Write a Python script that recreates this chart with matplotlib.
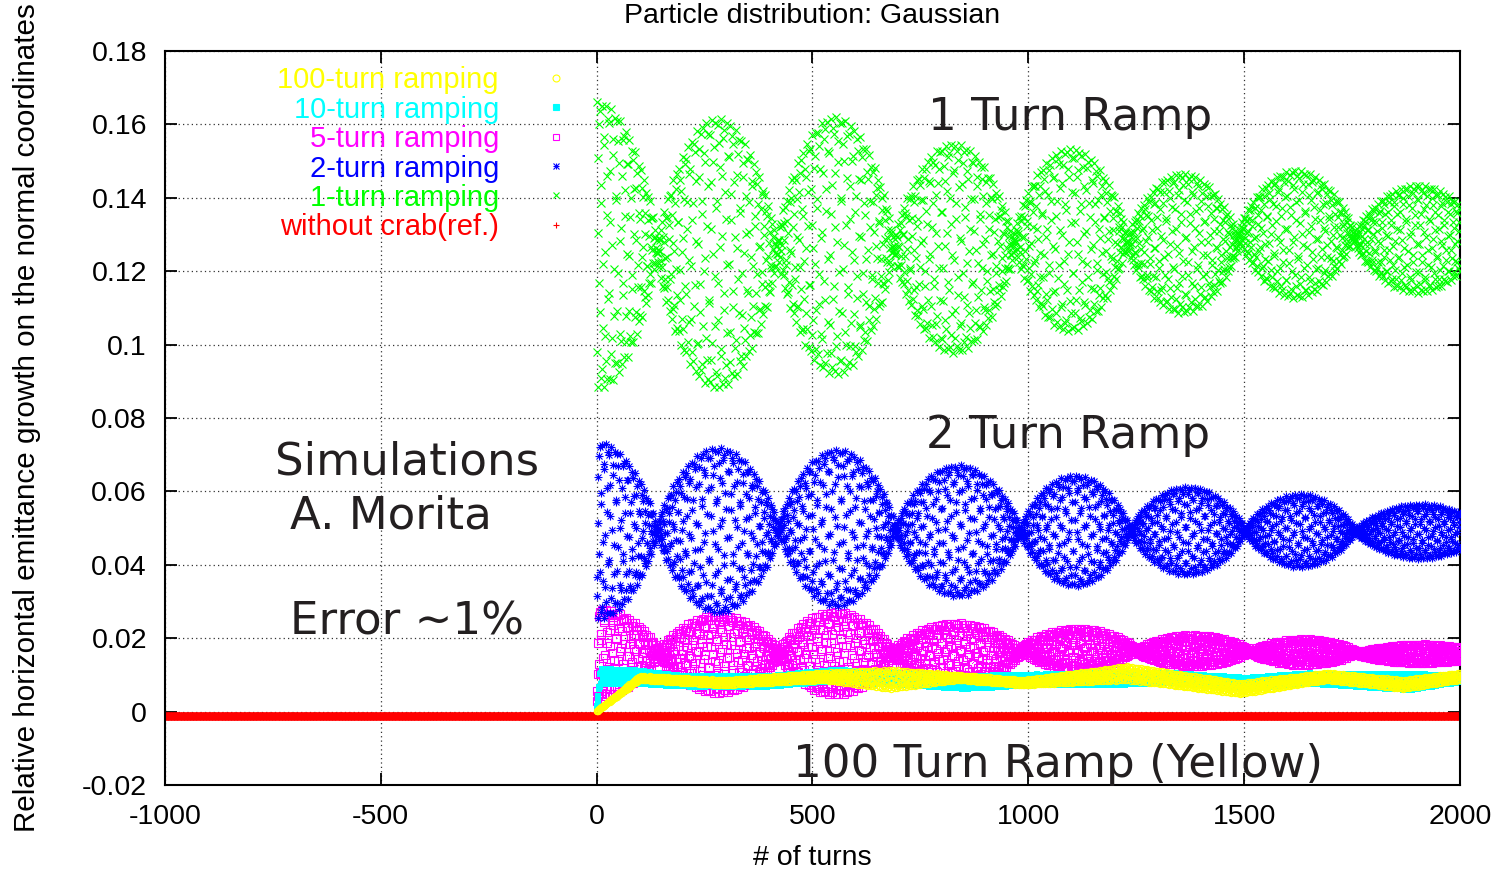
import numpy as np
import matplotlib
matplotlib.use("Agg")
import matplotlib.pyplot as plt

plt.rcParams["font.family"] = ["Liberation Sans", "DejaVu Sans"]
plt.rcParams["axes.unicode_minus"] = False

# fractional tune: spreads the one-sample-per-turn points across the envelope
TUNE = 0.381966

# --- envelopes ---
# waists (turns where the band pinches) and top/bottom of each bulge between them
green_waists = [-140, 140, 418, 688, 966, 1228, 1487, 1753, 2050]
green_top = [0.1662, 0.1616, 0.1620, 0.1547, 0.1534, 0.1466, 0.1475, 0.1434]
green_bot = [0.0878, 0.0882, 0.0918, 0.0977, 0.1036, 0.1086, 0.1127, 0.1141]

blue_waists = [-140, 140, 422, 692, 981, 1236, 1502, 1757, 2060]
blue_top = [0.0735, 0.0718, 0.0713, 0.0671, 0.0644, 0.0612, 0.0592, 0.0565]
blue_bot = [0.0251, 0.0269, 0.0287, 0.0314, 0.0342, 0.0373, 0.0394, 0.0417]

magenta_waists = [-144, 144, 422, 684, 981, 1248, 1514, 1761, 2060]
magenta_top = [0.0280, 0.0262, 0.0271, 0.0241, 0.0226, 0.0208, 0.0197, 0.0183]
magenta_bot = [0.0040, 0.0051, 0.0046, 0.0078, 0.0114, 0.0123, 0.0127, 0.0132]

# thin bands: top/bottom at a few turns
cyan_turns = [10, 80, 200, 400, 550, 700, 850, 1050, 1200, 1320, 1500, 1650, 1880, 2000]
cyan_top = [0.0116, 0.0114, 0.0097, 0.0097, 0.0114, 0.0104, 0.0097, 0.0102, 0.0107,
            0.0106, 0.0092, 0.0104, 0.0102, 0.0100]
cyan_bot = [0.0074, 0.0076, 0.0068, 0.0068, 0.0083, 0.0073, 0.0062, 0.0073, 0.0072,
            0.0078, 0.0063, 0.0076, 0.0058, 0.0080]

yellow_turns = [100, 295, 526, 680, 835, 988, 1228, 1491, 1692, 1869, 2000]
yellow_top = [0.0097, 0.0086, 0.0106, 0.0114, 0.0100, 0.0086, 0.0124, 0.0078, 0.0106,
              0.0086, 0.0106]
yellow_bot = [0.0086, 0.0072, 0.0086, 0.0062, 0.0086, 0.0072, 0.0086, 0.0048, 0.0086,
              0.0062, 0.0086]

ref_level = -0.0012   # "without crab" stays flat
ramp_turns = {"yellow": 100, "cyan": 10, "magenta": 5, "blue": 2, "green": 1}

turns = np.arange(0, 2001)
ref_turns = np.arange(-1000, 2001)


def bulges(n, waists, top, bot):
    w = np.asarray(waists, float)
    top, bot = np.asarray(top), np.asarray(bot)
    k = np.clip(np.searchsorted(w, n, side="right") - 1, 0, len(top) - 1)
    frac = (n - w[k]) / (w[k + 1] - w[k])
    mid = (top[k] + bot[k]) / 2
    # bulges are a bit fuller than a plain sine arch
    half = (top[k] - bot[k]) / 2 * np.sin(np.pi * frac) ** 0.7
    return mid, half


def band(n, nodes, top, bot):
    t = np.interp(n, nodes, top)
    b = np.interp(n, nodes, bot)
    return (t + b) / 2, (t - b) / 2


def samples(mid, half, n_ramp):
    ramp = np.minimum((turns + 1) / n_ramp, 1.0)
    return ramp * (mid + half * np.cos(2 * np.pi * TUNE * turns))


green = samples(*bulges(turns, green_waists, green_top, green_bot), ramp_turns["green"])
blue = samples(*bulges(turns, blue_waists, blue_top, blue_bot), ramp_turns["blue"])
magenta = samples(*bulges(turns, magenta_waists, magenta_top, magenta_bot), ramp_turns["magenta"])
cyan = samples(*band(turns, cyan_turns, cyan_top, cyan_bot), ramp_turns["cyan"])
yellow = samples(*band(turns, yellow_turns, yellow_top, yellow_bot), ramp_turns["yellow"])
ref = np.full(ref_turns.shape, ref_level)

fig = plt.figure(figsize=(14.97, 8.73), dpi=100)
ax = fig.add_axes([0.1102, 0.1008, 0.8651, 0.8408])

mew = 0.8
ax.plot(ref_turns, ref, ls="none", marker="+", ms=6, mew=1.0, color="#ff0000", zorder=2)
ax.plot(turns, magenta, ls="none", marker="s", ms=6, mew=mew, mfc="none", color="#ff00ff", zorder=3)
ax.plot(turns, magenta, ls="none", marker=",", color="#ff00ff", zorder=3)
ax.plot(turns, blue, ls="none", marker="+", ms=6, mew=mew, color="#0000ff", zorder=4)
ax.plot(turns, blue, ls="none", marker="x", ms=5, mew=mew, color="#0000ff", zorder=4)
ax.plot(turns, green, ls="none", marker="x", ms=6, mew=mew, color="#00ff00", zorder=5)
ax.plot(turns, cyan, ls="none", marker="s", ms=4.2, mew=0, color="#00ffff", zorder=6)
ax.plot(turns, yellow, ls="none", marker="o", ms=4.5, mew=mew, mfc="none", color="#ffff00", zorder=7)

ax.set_xlim(-1000, 2000)
ax.set_ylim(-0.02, 0.18)
xt = [-1000, -500, 0, 500, 1000, 1500, 2000]
yt = [-0.02, 0, 0.02, 0.04, 0.06, 0.08, 0.1, 0.12, 0.14, 0.16, 0.18]
ax.set_xticks(xt, [str(v) for v in xt])
ax.set_yticks(yt, [f"{v:g}" for v in yt])
ax.tick_params(direction="in", length=8.5, width=1.3, labelsize=20.5,
               top=True, right=True)
ax.tick_params(axis="x", pad=14)
ax.tick_params(axis="y", pad=13)
for s in ax.spines.values():
    s.set_linewidth(1.5)
ax.set_axisbelow(True)
ax.grid(True, color="#333333", lw=0.9, ls=(0, (1, 2.5)))

ax.set_xlabel("# of turns", fontsize=20.5)
ax.xaxis.set_label_coords(0.5, -0.0995)
ax.xaxis.label.set_va("center")
ax.set_ylabel("Relative horizontal emittance growth on the normal coordinates", fontsize=21.3)
ax.yaxis.set_label_coords(-0.1065, 0.5)
ax.yaxis.label.set_va("center")

fig.text(0.5424, 1 - 23 / 873, "Particle distribution: Gaussian", ha="center",
         va="baseline", fontsize=20.5)

# legend: text right-aligned, key marker to the right
legend_rows = [
    ("100-turn ramping", "#ffff00", [dict(marker="o", mfc="none")]),
    ("10-turn ramping", "#00ffff", [dict(marker="s")]),
    ("5-turn ramping", "#ff00ff", [dict(marker="s", mfc="none")]),
    ("2-turn ramping", "#0000ff", [dict(marker="+"), dict(marker="x")]),
    ("1-turn ramping", "#00ff00", [dict(marker="x")]),
    ("without crab(ref.)", "#ff0000", [dict(marker="+")]),
]
for i, (label, col, keys) in enumerate(legend_rows):
    yc = 0.9632 - 0.0400 * i
    ax.text(0.2579, yc - 0.0143, label, transform=ax.transAxes, ha="right",
            va="baseline", color=col, fontsize=21, zorder=10)
    for mk in keys:
        ax.plot([0.3019], [yc], transform=ax.transAxes, ls="none", ms=5, mew=0.8,
                color=col, clip_on=False, zorder=10, **mk)

# annotations
note = dict(fontsize=32.5, color="#231f20", family="DejaVu Sans", va="baseline",
            ha="left", zorder=12)
ax.text(768, 0.1585, "1 Turn Ramp", **note)
ax.text(763, 0.0718, "2 Turn Ramp", **note)
ax.text(-745, 0.0645, "Simulations", **note)
ax.text(-710, 0.0500, "A. Morita", **note)
ax.text(-710, 0.0209, "Error \u223c1%", **note)
ax.text(455, -0.0178, "100 Turn Ramp (Yellow)", **note)

fig.savefig("out.png", dpi=100)
